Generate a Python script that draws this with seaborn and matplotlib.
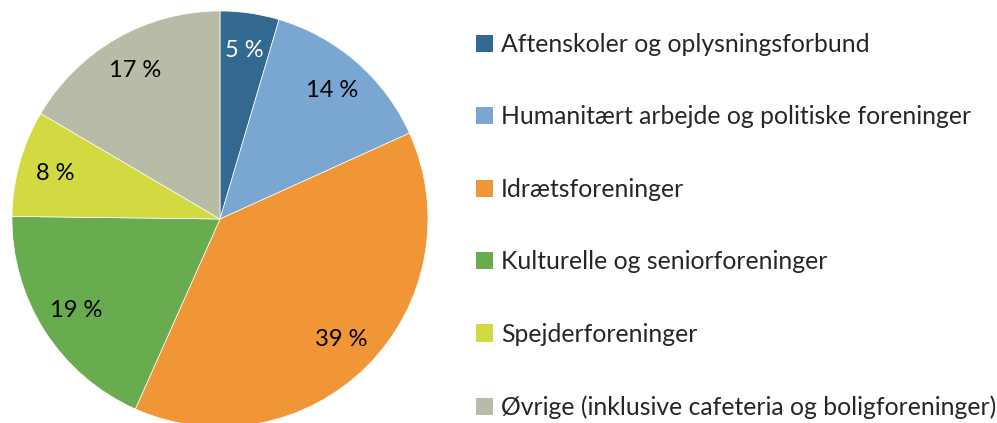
import matplotlib
matplotlib.use("Agg")
import matplotlib.pyplot as plt
import seaborn as sns
from matplotlib.patches import Patch

sns.set_theme(style="white")
plt.rcParams['font.family'] = ['Lato', 'DejaVu Sans']

categories = [
    "Aftenskoler og oplysningsforbund",
    "Humanitært arbejde og politiske foreninger",
    "Idrætsforeninger",
    "Kulturelle og seniorforeninger",
    "Spejderforeninger",
    "Øvrige (inklusive cafeteria og boligforeninger)",
]
values = [4.6, 13.7, 38.6, 18.6, 8.3, 16.6]
colors = ["#336991", "#7AA7D2", "#F09637", "#69AC4F", "#D2D941", "#B8BBA5"]
label_colors = ["white", "black", "black", "black", "black", "black"]

W, H = 997, 423
fig = plt.figure(figsize=(W / 100, H / 100), dpi=100)
R = 208
cx, cy = 220, 219
ax = fig.add_axes([(cx - R) / W, (H - cy - R) / H, 2 * R / W, 2 * R / H])
pct_labels = [f"{v:.0f} %" for v in values]
wedges, texts = ax.pie(
    values, colors=colors, startangle=90, counterclock=False,
    labels=pct_labels, labeldistance=0.82, radius=1,
    wedgeprops=dict(linewidth=0.5, edgecolor="white"),
    textprops=dict(fontsize=17, ha="center", va="center"),
)
for t, c in zip(texts, label_colors):
    t.set_color(c)
    t.set_horizontalalignment("center")
    t.set_verticalalignment("center")
ax.set_xlim(-1, 1)
ax.set_ylim(-1, 1)
ax.set_aspect("auto")
ax.axis("off")

handles = [Patch(facecolor=c, edgecolor="none") for c in colors]
fig.legend(handles, categories, loc="upper left", bbox_to_anchor=(476 / W, 1 - 33 / H),
           frameon=False, fontsize=17.8, handlelength=0.7, handleheight=0.7,
           handletextpad=0.3, labelspacing=2.0, borderpad=0, borderaxespad=0)

fig.savefig("out.png", dpi=100)
